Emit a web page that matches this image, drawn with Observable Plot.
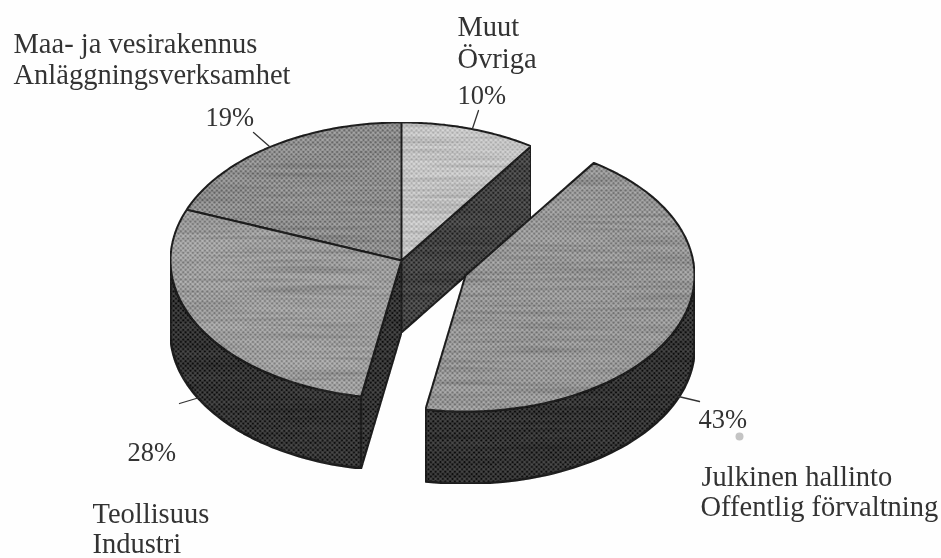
<!DOCTYPE html>
<html><head><meta charset="utf-8">
<script src="https://cdn.jsdelivr.net/npm/d3@7"></script>
<script src="https://cdn.jsdelivr.net/npm/@observablehq/plot@0.6"></script>
<style>html,body{margin:0;padding:0;background:#fefefe}svg{display:block}</style>
</head><body><div id="chart"></div>
<script>
// data
const categories = ["Muut", "Julkinen hallinto", "Teollisuus", "Maa- ja vesirakennus"];
const shares = [10, 43, 28, 19];
const percentLabels = ["10%", "43%", "28%", "19%"];
const nameLines = [["Muut", "Övriga"], ["Julkinen hallinto", "Offentlig förvaltning"], ["Teollisuus", "Industri"], ["Maa- ja vesirakennus", "Anläggningsverksamhet"]];

// layout
const W = 941, H = 558;
const main = {cx: 401, cy: 260, rx: 231, ry: 138};
const exploded = {cx: 465, cy: 275, rx: 229, ry: 136};
const depth = 72;
const tilt = 0.035;
const pcts = [[457, 103], [698, 427], [127, 460], [205, 125]];
const names = [[[457, 35], [457, 67]], [[701, 485], [700, 515]], [[92, 522], [92, 552]], [[13, 52], [13, 83]]];
const leaders = [[[478, 110], [472, 128]], [[678, 396], [699, 401]], [[199, 397], [179, 403]], [[269, 146], [253, 132]]];
const speck = [{x: 739, y: 436}];

const arcs = d3.pie().sort(null).value(d => d)(shares);
const warp = t => t - tilt * Math.max(0, Math.sin(2 * t));
const at = (g, t, dz = 0) => ({x: g.cx + g.rx * Math.sin(warp(t)), y: g.cy - g.ry * Math.cos(warp(t)) + dz});
const rim = (g, a, b, dz = 0) => d3.range(0, 61).map(i => at(g, a + (b - a) * i / 60, dz));
const down = (p) => ({x: p.x, y: p.y + depth});
const centre = g => ({x: g.cx, y: g.cy});
const topFace = (g, a) => [centre(g), ...rim(g, a.startAngle, a.endAngle), centre(g)];
const wall = (g, a, b) => { const r = rim(g, a, b); return [...r, ...r.map(down).reverse(), r[0]]; };
const cutFace = (g, t) => { const p = at(g, t), c = centre(g); return [c, p, down(p), down(c), c]; };

const patterns = {lite: ["#e6e6e6", "#b4b4b4"], maa: ["#bdbdbd", "#6e6e6e"], teo: ["#cacaca", "#828282"], jul: ["#c4c4c4", "#7a7a7a"], dark: ["#707070", "#262626"], dark2: ["#5e5e5e", "#181818"]};
const defs = () => {
  const s = d3.create("svg:g"), d = s.append("defs");
  for (const k in patterns) {
    const p = d.append("pattern").attr("id", "ht-" + k).attr("width", 3.4).attr("height", 3.4)
      .attr("patternUnits", "userSpaceOnUse").attr("patternTransform", "rotate(45)");
    p.append("rect").attr("width", 3.4).attr("height", 3.4).attr("fill", patterns[k][0]);
    p.append("rect").attr("x", 0.4).attr("y", 0.4).attr("width", 2.6).attr("height", 2.6).attr("fill", patterns[k][1]);
  }
  const f = d.append("filter").attr("id", "streak").attr("x", 0).attr("y", 0).attr("width", 1).attr("height", 1);
  f.append("feTurbulence").attr("type", "fractalNoise").attr("baseFrequency", "0.008 0.28").attr("numOctaves", 2).attr("seed", 4).attr("result", "n");
  f.append("feColorMatrix").attr("in", "n").attr("type", "matrix").attr("values", "0 0 0 0 0  0 0 0 0 0  0 0 0 0 0  0.7 0 0 0 -0.27").attr("result", "a");
  f.append("feComposite").attr("in", "a").attr("in2", "SourceAlpha").attr("operator", "in").attr("result", "c");
  f.append("feMerge").call(m => { m.append("feMergeNode").attr("in", "SourceGraphic"); m.append("feMergeNode").attr("in", "c"); });
  return s.node();
};
const shape = (pts, key, sw = 2) => Plot.line(pts, {x: "x", y: "y", fill: `url(#ht-${key})`, stroke: "#222", strokeWidth: sw, curve: "linear", strokeLinejoin: "miter", imageFilter: "url(#streak)"});

const [muut, jul, teo, maa] = arcs;
const texts = [], pctTexts = [];
categories.forEach((c, i) => {
  pctTexts.push({x: pcts[i][0], y: pcts[i][1], t: percentLabels[i]});
  nameLines[i].forEach((l, j) => texts.push({x: names[i][j][0], y: names[i][j][1], t: l}));
});
const label = (rows, size) => Plot.text(rows, {x: "x", y: "y", text: "t", textAnchor: "start", lineAnchor: "bottom", fontFamily: "Liberation Serif", fontSize: size, fill: "#333"});

const chart = Plot.plot({
  width: W, height: H, margin: 0,
  x: {type: "linear", domain: [0, W], range: [0, W], axis: null},
  y: {type: "linear", domain: [0, H], range: [0, H], axis: null},
  style: {background: "#fefefe", filter: "blur(0.4px)"},
  marks: [
    defs,
    shape(cutFace(main, muut.endAngle), "dark"),
    shape(wall(main, teo.startAngle, 3 * Math.PI / 2), "dark2", 2.6),
    shape(cutFace(main, teo.startAngle), "dark2"),
    shape(topFace(main, muut), "lite"),
    shape(topFace(main, maa), "maa"),
    shape(topFace(main, teo), "teo"),
    shape(wall(exploded, Math.PI / 2, jul.endAngle), "dark2", 2.6),
    shape(topFace(exploded, jul), "jul"),
    ...leaders.map(l => Plot.line(l.map(([x, y]) => ({x, y})), {x: "x", y: "y", stroke: "#333", strokeWidth: 1.3})),
    Plot.dot(speck, {x: "x", y: "y", r: 4, fill: "#c4c4c4", stroke: "none"}),
    label(texts, 28.5),
    label(pctTexts, 26.5)
  ]
});
document.getElementById("chart").append(chart);
</script></body></html>
